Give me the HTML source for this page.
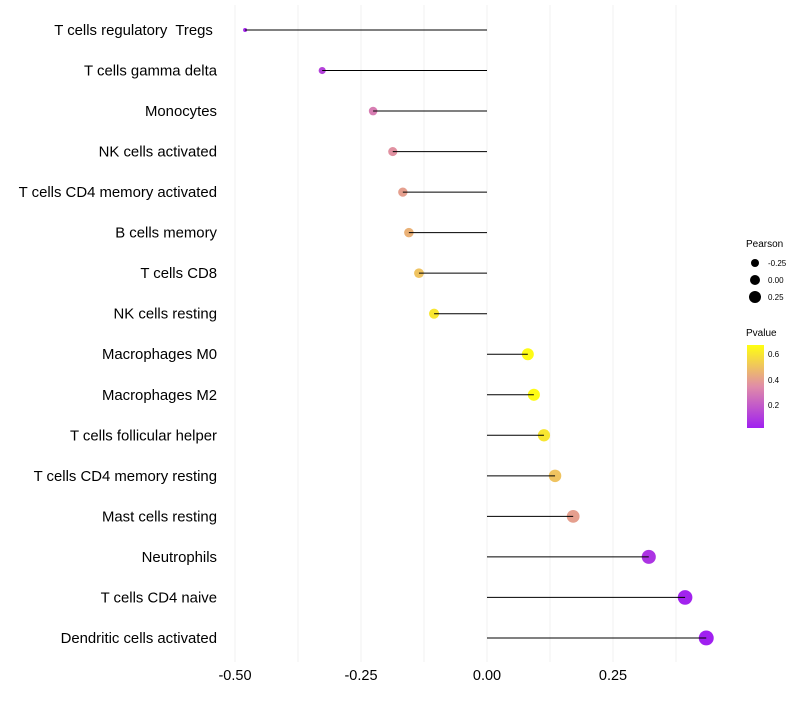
<!DOCTYPE html>
<html><head><meta charset="utf-8"><style>
body{margin:0;background:#fff;font-family:"Liberation Sans",sans-serif}
#labels text{white-space:pre}
</style></head><body>
<svg id="chart" width="800" height="700" xmlns="http://www.w3.org/2000/svg">
<defs><linearGradient id="pg" x1="0" y1="1" x2="0" y2="0">
<stop offset="0" stop-color="#A020F0"/><stop offset="0.5" stop-color="#E08CA8"/><stop offset="1" stop-color="#FFFF10"/></linearGradient></defs>
<g id="grid"></g><g id="marks"></g><g id="labels"></g><g id="xticks"></g>
<g font-size="10">
<text x="746" y="247">Pearson</text>
<circle cx="755" cy="263" r="4" fill="#000"/><text x="768" y="266" font-size="8">-0.25</text>
<circle cx="755" cy="280" r="5" fill="#000"/><text x="768" y="283" font-size="8">0.00</text>
<circle cx="755" cy="297" r="6" fill="#000"/><text x="768" y="300" font-size="8">0.25</text>
<text x="746" y="336">Pvalue</text>
<rect x="747" y="345" width="17" height="83" fill="url(#pg)"/>
<text x="768" y="357" font-size="8">0.6</text><text x="768" y="383" font-size="8">0.4</text><text x="768" y="408" font-size="8">0.2</text>
</g>
</svg>
<script>
const categories=["T cells regulatory  Tregs ","T cells gamma delta","Monocytes","NK cells activated","T cells CD4 memory activated","B cells memory","T cells CD8","NK cells resting","Macrophages M0","Macrophages M2","T cells follicular helper","T cells CD4 memory resting","Mast cells resting","Neutrophils","T cells CD4 naive","Dendritic cells activated"];
const pearson=[-0.480,-0.327,-0.226,-0.187,-0.167,-0.155,-0.135,-0.105,0.081,0.093,0.113,0.135,0.171,0.321,0.393,0.435];
const pvalue=[0.04,0.12,0.30,0.36,0.40,0.45,0.50,0.60,0.66,0.66,0.60,0.50,0.40,0.08,0.03,0.02];
const xTicks=[-0.5,-0.25,0,0.25];
const xTickLabels=["-0.50","-0.25","0.00","0.25"];
const NS="http://www.w3.org/2000/svg";
const x=v=>487+v*504;
const y=i=>30+i*40.53;
const pmin=Math.min(...pearson),pmax=Math.max(...pearson);
const rad=v=>Math.sqrt(4+(v-pmin)/(pmax-pmin)*(56-4));
function lerp(a,b,t){return a.map((c,i)=>Math.round(c+(b[i]-c)*t));}
function col(p){let t=Math.max(0,Math.min(1,(p-0.02)/0.65));const lo=[160,32,240],mid=[224,140,168],hi=[255,255,16];
const c=t<0.5?lerp(lo,mid,t*2):lerp(mid,hi,(t-0.5)*2);return `rgb(${c})`;}
function mk(tag,attrs,parent){const e=document.createElementNS(NS,tag);for(const k in attrs)e.setAttribute(k,attrs[k]);parent.appendChild(e);return e;}
const grid=document.getElementById('grid');
for(let v=-0.5;v<=0.38;v+=0.125){const g=mk('line',{x1:x(v),x2:x(v),y1:5,y2:662,stroke:'#f2f2f2','stroke-width':1},grid);

}
const marks=document.getElementById('marks'),labels=document.getElementById('labels');
categories.forEach((c,i)=>{
const cir=mk('circle',{cx:x(pearson[i]),cy:y(i),r:rad(pearson[i]),fill:col(pvalue[i])},marks);


const ln=mk('line',{x1:x(0),x2:x(pearson[i]),y1:y(i),y2:y(i),stroke:'#000','stroke-width':1},marks);


const t=mk('text',{x:217,y:y(i)+5,'text-anchor':'end','font-size':14.9,fill:'#000'},labels);t.textContent=c;


});
const xt=document.getElementById('xticks');
xTicks.forEach((v,i)=>{const t=mk('text',{x:x(v),y:680,'text-anchor':'middle','font-size':14.5,fill:'#000'},xt);t.textContent=xTickLabels[i];

});
</script>
</body></html>
